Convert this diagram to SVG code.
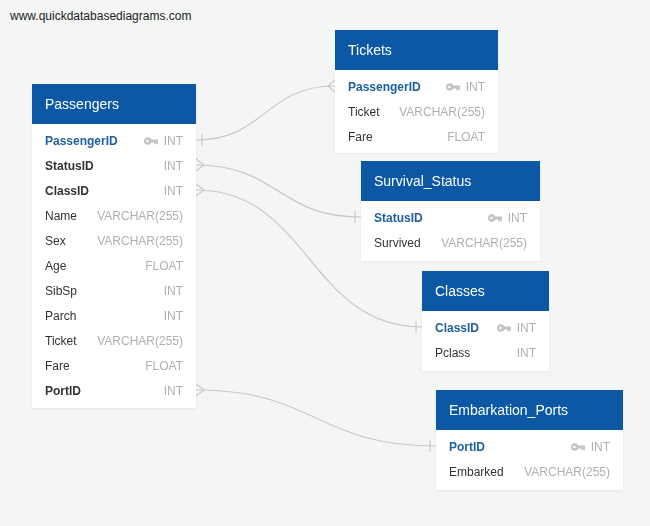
<svg xmlns="http://www.w3.org/2000/svg" xmlns:xlink="http://www.w3.org/1999/xlink" width="650" height="526" viewBox="0 0 650 526">
<style>
text{font-family:"Liberation Sans",Arial,sans-serif;}
.hdr{fill:#0859a4;}
.body{fill:#ffffff;}
.title{fill:#ffffff;font-size:14px;}
.f{fill:#333333;font-size:12px;}
.fk{fill:#333333;font-size:12px;font-weight:bold;}
.pk{fill:#1f5f9f;font-size:12px;font-weight:bold;}
.t{fill:#b0b0b0;font-size:12px;text-anchor:end;}
.wm{fill:#222222;font-size:12px;}
.c{fill:none;stroke:#c8c8c8;stroke-width:1.2;}
</style>
<defs>
<g id="key">
<circle cx="3.8" cy="0" r="3.8" fill="#c4c4c4"/>
<circle cx="3.4" cy="0" r="1.2" fill="#ffffff"/>
<rect x="6" y="-1.5" width="8" height="3" fill="#c4c4c4"/>
<rect x="10" y="1" width="1.7" height="2.2" fill="#c4c4c4"/>
<rect x="12.3" y="1" width="1.7" height="2.2" fill="#c4c4c4"/>
</g>
<filter id="sh" x="-5%" y="-5%" width="110%" height="110%">
<feDropShadow dx="0" dy="1" stdDeviation="1" flood-color="#000" flood-opacity="0.06"/>
</filter>
</defs>
<rect width="650" height="526" fill="#f4f5f5"/>
<text class="wm" x="10" y="20">www.quickdatabasediagrams.com</text>

<g id="connectors">
<path class="c" d="M196,140 C265,140 265,86 335,86"/>
<path class="c" d="M202,134 V146"/>
<path class="c" d="M328,86 L335,80 M328,86 L335,92"/>

<path class="c" d="M196,165 C278,165 278,217 361,217"/>
<path class="c" d="M196,159 L204,165 L196,171"/>
<path class="c" d="M355,211 V223"/>

<path class="c" d="M196,190 C309,190 309,327 422,327"/>
<path class="c" d="M196,184 L204,190 L196,196"/>
<path class="c" d="M416,321 V333"/>

<path class="c" d="M196,390 C316,390 316,446 436,446"/>
<path class="c" d="M196,384 L204,390 L196,396"/>
<path class="c" d="M430,440 V452"/>
</g>

<g id="Passengers" filter="url(#sh)">
<rect class="body" x="32" y="84" width="164" height="324"/>
<rect class="hdr" x="32" y="84" width="164" height="40"/>
<text class="title" x="45" y="109">Passengers</text>
<text class="pk" x="45" y="145">PassengerID</text><use xlink:href="#key" x="144" y="141"/><text class="t" x="183" y="145">INT</text>
<text class="fk" x="45" y="170">StatusID</text><text class="t" x="183" y="170">INT</text>
<text class="fk" x="45" y="195">ClassID</text><text class="t" x="183" y="195">INT</text>
<text class="f" x="45" y="220">Name</text><text class="t" x="183" y="220">VARCHAR(255)</text>
<text class="f" x="45" y="245">Sex</text><text class="t" x="183" y="245">VARCHAR(255)</text>
<text class="f" x="45" y="270">Age</text><text class="t" x="183" y="270">FLOAT</text>
<text class="f" x="45" y="295">SibSp</text><text class="t" x="183" y="295">INT</text>
<text class="f" x="45" y="320">Parch</text><text class="t" x="183" y="320">INT</text>
<text class="f" x="45" y="345">Ticket</text><text class="t" x="183" y="345">VARCHAR(255)</text>
<text class="f" x="45" y="370">Fare</text><text class="t" x="183" y="370">FLOAT</text>
<text class="fk" x="45" y="395">PortID</text><text class="t" x="183" y="395">INT</text>
</g>

<g id="Tickets" filter="url(#sh)">
<rect class="body" x="335" y="30" width="163" height="123"/>
<rect class="hdr" x="335" y="30" width="163" height="40"/>
<text class="title" x="348" y="55">Tickets</text>
<text class="pk" x="348" y="91">PassengerID</text><use xlink:href="#key" x="446" y="87"/><text class="t" x="485" y="91">INT</text>
<text class="f" x="348" y="116">Ticket</text><text class="t" x="485" y="116">VARCHAR(255)</text>
<text class="f" x="348" y="141">Fare</text><text class="t" x="485" y="141">FLOAT</text>
</g>

<g id="Survival_Status" filter="url(#sh)">
<rect class="body" x="361" y="161" width="179" height="100"/>
<rect class="hdr" x="361" y="161" width="179" height="40"/>
<text class="title" x="374" y="186">Survival_Status</text>
<text class="pk" x="374" y="222">StatusID</text><use xlink:href="#key" x="488" y="218"/><text class="t" x="527" y="222">INT</text>
<text class="f" x="374" y="247">Survived</text><text class="t" x="527" y="247">VARCHAR(255)</text>
</g>

<g id="Classes" filter="url(#sh)">
<rect class="body" x="422" y="271" width="127" height="100"/>
<rect class="hdr" x="422" y="271" width="127" height="40"/>
<text class="title" x="435" y="296">Classes</text>
<text class="pk" x="435" y="332">ClassID</text><use xlink:href="#key" x="497" y="328"/><text class="t" x="536" y="332">INT</text>
<text class="f" x="435" y="357">Pclass</text><text class="t" x="536" y="357">INT</text>
</g>

<g id="Embarkation_Ports" filter="url(#sh)">
<rect class="body" x="436" y="390" width="187" height="100"/>
<rect class="hdr" x="436" y="390" width="187" height="40"/>
<text class="title" x="449" y="415">Embarkation_Ports</text>
<text class="pk" x="449" y="451">PortID</text><use xlink:href="#key" x="571" y="447"/><text class="t" x="610" y="451">INT</text>
<text class="f" x="449" y="476">Embarked</text><text class="t" x="610" y="476">VARCHAR(255)</text>
</g>
</svg>
